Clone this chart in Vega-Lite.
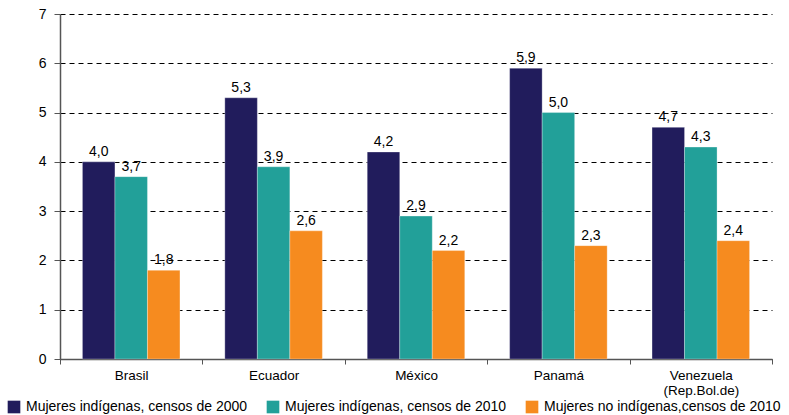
{
  "$schema": "https://vega.github.io/schema/vega-lite/v6.json",
  "autosize": {"type": "none"},
  "padding": {"left": 60, "top": 14, "right": 17, "bottom": 56},
  "width": 712,
  "height": 345,
  "background": "white",
  "config": {
    "locale": {"number": {"decimal": ",", "thousands": ".", "grouping": [3], "currency": ["", ""]}},
    "font": "Liberation Sans",
    "view": {"stroke": null}
  },
  "data": {"values": [
    {"pais": "Brasil", "serie": "Mujeres indígenas, censos de 2000", "valor": 4.0},
    {"pais": "Brasil", "serie": "Mujeres indígenas, censos de 2010", "valor": 3.7},
    {"pais": "Brasil", "serie": "Mujeres no indígenas,censos de 2010", "valor": 1.8},
    {"pais": "Ecuador", "serie": "Mujeres indígenas, censos de 2000", "valor": 5.3},
    {"pais": "Ecuador", "serie": "Mujeres indígenas, censos de 2010", "valor": 3.9},
    {"pais": "Ecuador", "serie": "Mujeres no indígenas,censos de 2010", "valor": 2.6},
    {"pais": "México", "serie": "Mujeres indígenas, censos de 2000", "valor": 4.2},
    {"pais": "México", "serie": "Mujeres indígenas, censos de 2010", "valor": 2.9},
    {"pais": "México", "serie": "Mujeres no indígenas,censos de 2010", "valor": 2.2},
    {"pais": "Panamá", "serie": "Mujeres indígenas, censos de 2000", "valor": 5.9},
    {"pais": "Panamá", "serie": "Mujeres indígenas, censos de 2010", "valor": 5.0},
    {"pais": "Panamá", "serie": "Mujeres no indígenas,censos de 2010", "valor": 2.3},
    {"pais": "Venezuela (Rep.Bol.de)", "serie": "Mujeres indígenas, censos de 2000", "valor": 4.7},
    {"pais": "Venezuela (Rep.Bol.de)", "serie": "Mujeres indígenas, censos de 2010", "valor": 4.3},
    {"pais": "Venezuela (Rep.Bol.de)", "serie": "Mujeres no indígenas,censos de 2010", "valor": 2.4}
  ]},
  "encoding": {
    "x": {
      "field": "pais", "type": "nominal", "sort": null, "title": null,
      "scale": {"paddingInner": 0, "paddingOuter": 0},
      "axis": {
        "labelAngle": 0, "tickBand": "extent", "labelFontSize": 13.5, "labelColor": "#000",
        "labelPadding": 4, "domainColor": "#555", "domainWidth": 1.5, "tickColor": "#555", "tickSize": 5,
        "labelExpr": "datum.value == 'Venezuela (Rep.Bol.de)' ? ['Venezuela', '(Rep.Bol.de)'] : datum.value",
        "labelLineHeight": 15
      }
    },
    "xOffset": {"field": "serie", "type": "nominal", "sort": null, "scale": {"paddingInner": 0, "paddingOuter": 0.69}},
    "y": {
      "field": "valor", "type": "quantitative", "title": null,
      "scale": {"domain": [0, 7], "nice": false},
      "axis": {
        "values": [0, 1, 2, 3, 4, 5, 6, 7], "format": "d", "labelFontSize": 14, "labelColor": "#000",
        "domainColor": "#555", "domainWidth": 1.5, "tickColor": "#555", "tickSize": 6, "labelPadding": 8,
        "grid": true, "gridDash": [5, 4], "gridColor": "#000", "gridWidth": 1
      }
    }
  },
  "layer": [
    {
      "mark": {"type": "bar", "stroke": "#ffffff", "strokeWidth": 0.3},
      "encoding": {
        "color": {
          "field": "serie", "type": "nominal", "sort": null, "title": null,
          "scale": {"range": ["#211C5C", "#22A099", "#F68B1F"]},
          "legend": {
            "orient": "none", "legendX": -53, "legendY": 386, "direction": "horizontal",
            "symbolType": "square", "symbolSize": 160, "symbolStrokeWidth": 0, "symbolOpacity": 1,
            "labelFontSize": 14, "labelColor": "#000", "columnPadding": 18, "labelOffset": 5, "labelLimit": 400
          }
        }
      }
    },
    {
      "mark": {"type": "text", "dy": -10, "fontSize": 14, "color": "#000"},
      "encoding": {"text": {"field": "valor", "type": "quantitative", "format": ".1f"}}
    }
  ]
}
